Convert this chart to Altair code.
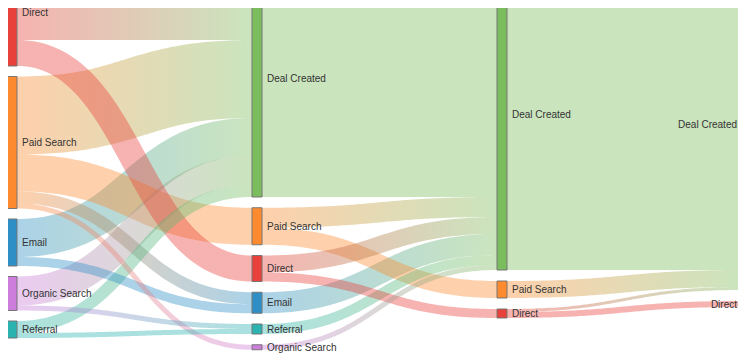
import altair as alt
import pandas as pd
import numpy as np

# ---- data ----
col0_nodes = ["Direct", "Paid Search", "Email", "Organic Search", "Referral"]
col1_nodes = ["Deal Created", "Paid Search", "Direct", "Email", "Referral", "Organic Search"]
col2_nodes = ["Deal Created", "Paid Search", "Direct"]
col3_nodes = ["Deal Created", "Direct"]

# stage 0 -> 1
s0_source = ["Direct", "Direct", "Paid Search", "Paid Search", "Paid Search", "Paid Search",
             "Email", "Email", "Organic Search", "Organic Search", "Referral", "Referral"]
s0_target = ["Deal Created", "Direct", "Deal Created", "Paid Search", "Email", "Organic Search",
             "Deal Created", "Email", "Deal Created", "Referral", "Deal Created", "Referral"]
s0_value = [81, 26, 78, 37, 12, 5, 38, 9, 29, 5, 12, 5]

# stage 1 -> 2
s1_source = ["Deal Created", "Paid Search", "Paid Search", "Direct", "Direct",
             "Email", "Referral", "Organic Search"]
s1_target = ["Deal Created", "Deal Created", "Paid Search", "Deal Created", "Direct",
             "Deal Created", "Deal Created", "Deal Created"]
s1_value = [238, 20, 17, 17, 9, 21, 10, 5]

# stage 2 -> 3
s2_source = ["Deal Created", "Paid Search", "Direct", "Direct"]
s2_target = ["Deal Created", "Deal Created", "Deal Created", "Direct"]
s2_value = [311, 17, 3, 6]

colors = {
    "Direct": "#e8403a",
    "Paid Search": "#fd8a2e",
    "Email": "#2d8fc5",
    "Organic Search": "#cd7ddb",
    "Referral": "#2bb3b0",
    "Deal Created": "#7bbd5c",
}

# ---- layout (computed from the values) ----
columns = [col0_nodes, col1_nodes, col2_nodes, col3_nodes]
stages = [(s0_source, s0_target, s0_value), (s1_source, s1_target, s1_value),
          (s2_source, s2_target, s2_value)]
TOP = -41
PADS = [10.5, 10.75, 11, 11]
X0 = 7
COL_STEP = 245
NODE_W = 10
K = 1.0

nodes = {}
for c, names in enumerate(columns):
    for n in names:
        nodes[(c, n)] = {"in": 0, "out": 0}
for c, (src, tgt, val) in enumerate(stages):
    for s, t, v in zip(src, tgt, val):
        nodes[(c, s)]["out"] += v
        nodes[(c + 1, t)]["in"] += v

node_rows = []
for c, names in enumerate(columns):
    y = TOP
    for n in names:
        v = max(nodes[(c, n)]["in"], nodes[(c, n)]["out"])
        nd = nodes[(c, n)]
        nd["y0"] = y
        nd["y1"] = y + v * K
        nd["x0"] = X0 + COL_STEP * c
        nd["x1"] = nd["x0"] + NODE_W
        y = nd["y1"] + PADS[c]
        last = c == len(columns) - 1
        node_rows.append({
            "name": n, "col": c, "x0": nd["x0"], "x1": nd["x1"],
            "y0": nd["y0"], "y1": nd["y1"], "color": colors[n],
            "ly": (nd["y0"] + nd["y1"]) / 2,
            "lx": nd["x0"] - 5 if last else nd["x1"] + 5,
            "last": last,
        })
nodes_df = pd.DataFrame(node_rows)

links = []
for c, (src, tgt, val) in enumerate(stages):
    lk = [{"s": (c, s), "t": (c + 1, t), "v": v} for s, t, v in zip(src, tgt, val)]
    for key in set(l["s"] for l in lk):
        off = nodes[key]["y0"]
        for l in sorted([l for l in lk if l["s"] == key], key=lambda l: nodes[l["t"]]["y0"]):
            l["sy"] = off + l["v"] * K / 2
            off += l["v"] * K
    for key in set(l["t"] for l in lk):
        off = nodes[key]["y0"]
        for l in sorted([l for l in lk if l["t"] == key], key=lambda l: nodes[l["s"]]["y0"]):
            l["ty"] = off + l["v"] * K / 2
            off += l["v"] * K
    links.extend(lk)

# ribbon polygons: bezier centre line offset perpendicular by half the width
rows = []
ts = np.linspace(0, 1, 80)
for i, l in enumerate(links):
    xa = nodes[l["s"]]["x1"]
    xb = nodes[l["t"]]["x0"]
    d = xb - xa
    dy = l["ty"] - l["sy"]
    h = l["v"] * K / 2
    top, bot = [], []
    for t in ts:
        cx = xa + d * (1.5 * t * (1 - t) + t ** 3)
        cy = l["sy"] + dy * (3 * t ** 2 - 2 * t ** 3)
        tx = d * (1.5 - 3 * t + 3 * t ** 2)
        ty = dy * (6 * t - 6 * t ** 2)
        n = np.hypot(tx, ty)
        nx, ny = -ty / n, tx / n
        top.append((cx - nx * h, cy - ny * h))
        bot.append((cx + nx * h, cy + ny * h))
    poly = top + bot[::-1]
    for j, (px, py) in enumerate(poly):
        rows.append({"link": i, "i": j, "x": px, "y": py})
links_df = pd.DataFrame(rows)

xs = alt.Scale(domain=[8, 738], nice=False, zero=False)
ys = alt.Scale(domain=[8, 353], reverse=True, nice=False, zero=False)

layers = []
order = sorted(range(len(links)), key=lambda i: -links[i]["v"])
for i in order:
    l = links[i]
    c1 = colors[l["s"][1]]
    c2 = colors[l["t"][1]]
    grad = alt.LinearGradient(
        gradient="linear",
        stops=[alt.GradientStop(color=c1, offset=0), alt.GradientStop(color=c2, offset=1)],
        x1=0, x2=1, y1=0, y2=0,
    )
    layers.append(
        alt.Chart(links_df).transform_filter(alt.datum.link == i)
        .mark_line(fill=grad, fillOpacity=0.4, strokeWidth=0, strokeOpacity=0, clip=True)
        .encode(
            x=alt.X("x:Q", scale=xs, axis=None),
            y=alt.Y("y:Q", scale=ys, axis=None),
            order=alt.Order("i:Q"),
        )
    )

node_layer = alt.Chart(nodes_df).mark_rect(stroke="#777777", strokeWidth=1, clip=True).encode(
    x=alt.X("x0:Q", scale=xs, axis=None), x2="x1:Q",
    y=alt.Y("y0:Q", scale=ys, axis=None), y2="y1:Q",
    fill=alt.Fill("color:N", scale=None),
)

lab_left = alt.Chart(nodes_df).transform_filter(alt.datum.last == False).mark_text(
    align="left", baseline="middle", font="Liberation Sans", fontSize=10, color="#333333",
    dy=0.5
).encode(
    x=alt.X("lx:Q", scale=xs, axis=None), y=alt.Y("ly:Q", scale=ys, axis=None), text="name:N"
)
lab_right = alt.Chart(nodes_df).transform_filter(alt.datum.last == True).mark_text(
    align="right", baseline="middle", font="Liberation Sans", fontSize=10, color="#333333",
    dy=0.5
).encode(
    x=alt.X("lx:Q", scale=xs, axis=None), y=alt.Y("ly:Q", scale=ys, axis=None), text="name:N"
)

chart = alt.layer(*layers, node_layer, lab_left, lab_right).properties(
    width=730, height=345,
    autosize=alt.AutoSizeParams(type="none"),
    padding=0,
).configure_view(stroke=None)

chart.save("out.html", embed_options={"renderer": "svg", "actions": False})
